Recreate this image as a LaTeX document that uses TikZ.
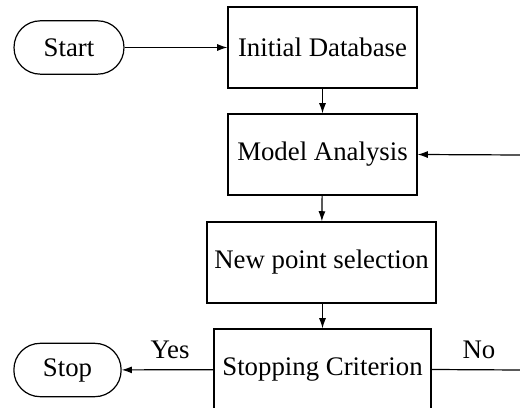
\documentclass[tikz,border=0pt]{standalone}
\usepackage{fontspec}
\setmainfont{Liberation Serif}
\usetikzlibrary{arrows.meta}
\begin{document}
\begin{tikzpicture}[x=0.3731pt,y=-0.3731pt,
  font=\fontsize{10pt}{12pt}\selectfont,
  line width=0.45pt,
  procbox/.style={draw, rectangle, minimum height=30.2pt, inner sep=0pt},
  termbox/.style={draw, rectangle, rounded corners=9.8pt, minimum height=19.9pt, inner sep=0pt},
  arr/.style={-{Latex[length=3.8pt,width=2.6pt]}},
  lbl/.style={inner sep=0pt}]
\clip (0,0) rectangle (520,408);
\node[termbox, minimum width=41pt] (start) at (69,47.5) {Start};
\node[procbox, minimum width=70.5pt] (init) at (322.5,47.5) {Initial Database};
\node[procbox, minimum width=70.5pt] (model) at (322.5,154.5) {Model Analysis};
\node[procbox, minimum width=85.4pt] (newpt) at (321.5,262.5) {New point selection};
\node[procbox, minimum width=81pt] (stopc) at (322.5,369.5) {Stopping Criterion};
\node[termbox, minimum width=40pt] (stop) at (67.5,370) {Stop};
\coordinate (noend) at (521,370);
\coordinate (backin) at (521,155);
\node[lbl] (yes) at (170,350) {Yes};
\node[lbl] (no) at (479,350) {No};
\draw[arr] (start) -- (init);
\draw[arr] (init) -- (model);
\draw[arr] (model) -- (newpt);
\draw[arr] (newpt.south -| stopc.north) -- (stopc.north);
\draw[arr] (stopc) -- (stop);
\draw (stopc.east) -- (noend);
\draw[arr] (backin) -- (model.east);
\end{tikzpicture}
\end{document}
